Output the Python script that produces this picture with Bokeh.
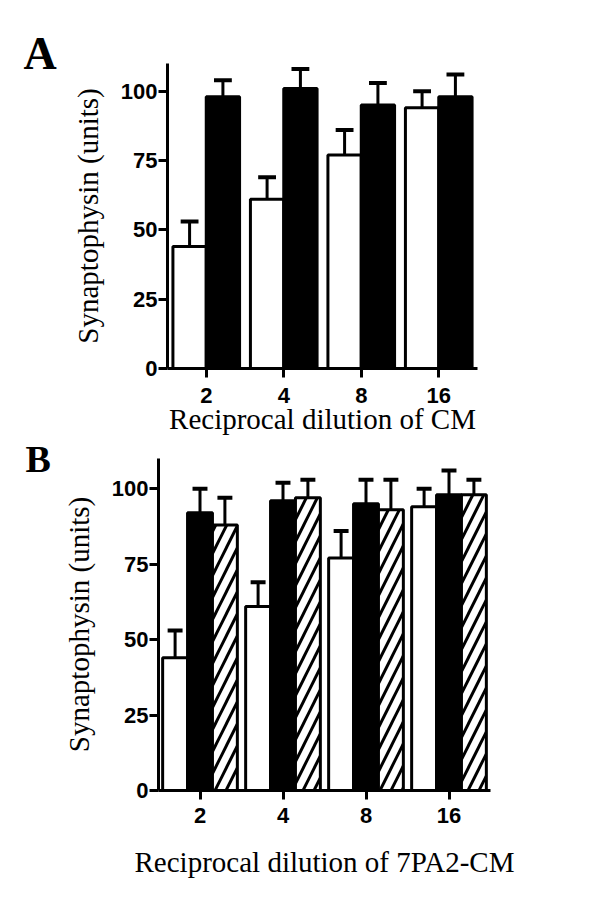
from bokeh.plotting import figure
from bokeh.models import ColumnDataSource, FixedTicker, FactorRange, Range1d, Title
from bokeh.transform import dodge
from bokeh.embed import file_html
from bokeh.resources import INLINE

dilutions = ["2", "4", "8", "16"]
y_ticks = [0, 25, 50, 75, 100]
panel_letters = ["A", "B"]

# Panel A: open vs filled bars
a_open_mean = [44, 61, 77, 94]
a_open_err = [9, 8, 9, 6]
a_filled_mean = [98, 101, 95, 98]
a_filled_err = [6, 7, 8, 8]

# Panel B: open, filled, hatched bars
b_open_mean = [44, 61, 77, 94]
b_open_err = [9, 8, 9, 6]
b_filled_mean = [92, 96, 95, 98]
b_filled_err = [8, 6, 8, 8]
b_hatched_mean = [88, 97, 93, 98]
b_hatched_err = [9, 6, 10, 5]

SERIF = "Liberation Serif"
SANS = "Liberation Sans"


def style(p, xlabel, tick_standoff, xlabel_standoff):
    p.xgrid.visible = False
    p.ygrid.visible = False
    p.outline_line_color = None
    for ax in (p.xaxis[0], p.yaxis[0]):
        ax.axis_line_width = 3
        ax.major_tick_line_width = 3
        ax.minor_tick_line_color = None
        ax.major_tick_in = 0
        ax.major_tick_out = 9
        ax.major_label_text_font = SANS
        ax.major_label_text_font_style = "bold"
        ax.major_label_text_font_size = "22px"
        ax.major_label_text_color = "black"
        ax.axis_label_text_font = SERIF
        ax.axis_label_text_font_style = "normal"
        ax.axis_label_text_font_size = "29px"
        ax.axis_label_text_color = "black"
    p.yaxis.ticker = FixedTicker(ticks=y_ticks)
    p.yaxis.major_label_standoff = 1
    p.yaxis.axis_label = "Synaptophysin (units)"
    p.yaxis.axis_label_standoff = 14
    p.xaxis.major_label_standoff = tick_standoff
    p.xaxis.axis_label = xlabel
    p.xaxis.axis_label_standoff = xlabel_standoff


def bars(p, src, key, err, offset, width, cap, fill, hatch=None):
    # error bar stem
    p.segment(x0=dodge("x", offset, range=p.x_range), y0=key,
              x1=dodge("x", offset, range=p.x_range), y1=err,
              source=src, line_color="black", line_width=3)
    # cap
    p.segment(x0=dodge("x", offset - cap, range=p.x_range), y0=err,
              x1=dodge("x", offset + cap, range=p.x_range), y1=err,
              source=src, line_color="black", line_width=4)
    kw = {}
    if hatch:
        kw = dict(hatch_pattern=hatch, hatch_color="black",
                  hatch_weight=3, hatch_scale=22)
    p.vbar(x=dodge("x", offset, range=p.x_range), top=key, width=width,
           source=src, fill_color=fill, line_color="black", line_width=3,
           **kw)


def letter(p, text, size, offset, standoff):
    p.add_layout(Title(text=text, align="left", offset=offset, standoff=standoff,
                       vertical_align="bottom", text_font=SERIF,
                       text_font_style="bold", text_font_size=size,
                       text_color="black"), "above")


# ---------- Panel A ----------
srcA = ColumnDataSource(dict(
    x=dilutions,
    open=a_open_mean, open_up=[m + e for m, e in zip(a_open_mean, a_open_err)],
    filled=a_filled_mean, filled_up=[m + e for m, e in zip(a_filled_mean, a_filled_err)],
))

pA = figure(width=584, height=437, x_range=FactorRange(factors=dilutions, range_padding=0),
            y_range=Range1d(0, 110), output_backend="svg", toolbar_location=None,
            min_border_left=167, min_border_right=107, min_border_top=63,
            min_border_bottom=64)
style(pA, "Reciprocal dilution of CM", 10, -3)
wA = 0.43
bars(pA, srcA, "open", "open_up", -wA / 2, wA, 0.115, "white")
bars(pA, srcA, "filled", "filled_up", wA / 2, wA, 0.115, "black")
letter(pA, panel_letters[0], "46px", -144, -30)

# ---------- Panel B ----------
srcB = ColumnDataSource(dict(
    x=dilutions,
    open=b_open_mean, open_up=[m + e for m, e in zip(b_open_mean, b_open_err)],
    filled=b_filled_mean, filled_up=[m + e for m, e in zip(b_filled_mean, b_filled_err)],
    hatched=b_hatched_mean, hatched_up=[m + e for m, e in zip(b_hatched_mean, b_hatched_err)],
))

pB = figure(width=584, height=468, x_range=FactorRange(factors=dilutions, range_padding=0),
            y_range=Range1d(0, 110), output_backend="svg", toolbar_location=None,
            min_border_left=158, min_border_right=94, min_border_top=21,
            min_border_bottom=115)
style(pB, "Reciprocal dilution of 7PA2-CM", 8, 20)
wB = 0.30
bars(pB, srcB, "open", "open_up", -wB, wB, 0.09, "white")
bars(pB, srcB, "filled", "filled_up", 0, wB, 0.09, "black")
bars(pB, srcB, "hatched", "hatched_up", wB, wB, 0.09, "white", hatch="/")
letter(pB, panel_letters[1], "38px", -133, -42)

open("out.html", "w").write(file_html([pA, pB], INLINE))
